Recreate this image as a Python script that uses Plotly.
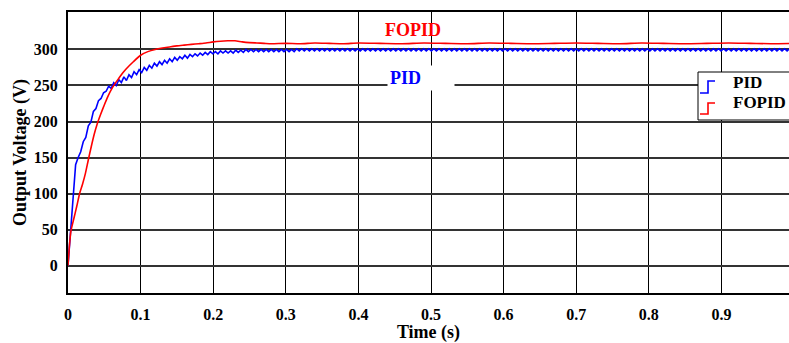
import plotly.graph_objects as go

# ---- data ----
DT = 0.0035  # PID sample spacing (s)
PID_V = [
    0, 45, 95, 140, 150, 158, 172, 178, 194, 199, 214, 218, 229, 232, 240, 242, 249, 246, 254, 250,
    258, 254, 262, 257, 265, 261, 269, 265, 272, 268, 275, 271, 278, 274, 281, 277, 283, 279, 285, 281,
    287, 283, 289, 285, 290, 287, 292, 288, 293, 290, 294, 291, 295, 292, 296, 293, 297, 294, 297, 294,
    298, 295, 298, 295, 298, 295, 299, 296, 299, 296,
    300, 297, 300, 297, 300, 297, 300, 297, 300, 297, 300, 297, 300, 297, 300, 297, 300, 297, 300, 297,
    301, 298, 301, 298, 301, 298, 301, 298, 301, 298, 301, 298, 301, 298, 301, 298, 301, 298, 301, 298,
    301, 298, 301, 298, 301, 298, 301, 298, 301, 298, 301, 298, 301, 298, 301, 298, 301, 298, 301, 298,
    301, 298, 301, 298, 301, 298, 301, 298, 301, 298, 301, 298, 301, 298, 301, 298, 301, 298, 301, 298,
    301, 298, 301, 298, 301, 298, 301, 298, 301, 298, 301, 298, 301, 298, 301, 298, 301, 298, 301, 298,
    301, 298, 301, 298, 301, 298, 301, 298, 301, 298, 301, 298, 301, 298, 301, 298, 301, 298, 301, 298,
    301, 298, 301, 298, 301, 298, 301, 298, 301, 298, 301, 298, 301, 298, 301, 298, 301, 298, 301, 298,
    301, 298, 301, 298, 301, 298, 301, 298, 301, 298, 301, 298, 301, 298, 301, 298, 301, 298, 301, 298,
    301, 298, 301, 298, 301, 298, 301, 298, 301, 298, 301, 298, 301, 298, 301, 298, 301, 298, 301, 298,
    301, 298, 301, 298, 301, 298, 301, 298, 301, 298, 301, 298, 301, 298, 301, 298, 301, 298, 301, 298,
    301, 298, 301, 298, 301, 298, 301, 298, 301, 298, 301, 298, 301, 298, 301,
]
PID_T = [i * DT for i in range(len(PID_V))]

FOPID_T = [0, 0.002, 0.004, 0.008, 0.012, 0.016, 0.02, 0.024, 0.028, 0.032,
           0.036, 0.04, 0.045, 0.05, 0.055, 0.06, 0.065, 0.07, 0.075, 0.08,
           0.09, 0.1, 0.11, 0.12, 0.13, 0.14, 0.15, 0.16, 0.17, 0.18,
           0.19, 0.2, 0.21, 0.22, 0.23, 0.24, 0.25, 0.26, 0.27, 0.28,
           0.3, 0.32, 0.34, 0.36, 0.38, 0.4,
           0.43, 0.46, 0.49, 0.52, 0.55, 0.58, 0.61, 0.64, 0.67, 0.7,
           0.73, 0.76, 0.79, 0.82, 0.85, 0.88, 0.91, 0.94, 0.97, 1.0]
FOPID_V = [0, 28, 48, 65, 82, 100, 113, 128, 147, 165,
           182, 196, 210, 223, 235, 245, 253, 260, 267, 273,
           283, 292, 297, 300, 302, 303.5, 305, 306, 307, 308,
           309, 310.5, 311.5, 312, 312, 310.5, 309.5, 309, 308.5, 308,
           308.5, 308, 309, 308.5, 308, 309,
           308.5, 308, 309, 308.5, 308, 309, 308.5, 308, 308.5, 309,
           308.5, 308, 309, 308.5, 308, 308.5, 309, 308.5, 308, 308.5]

X_TICKS = [0, 0.1, 0.2, 0.3, 0.4, 0.5, 0.6, 0.7, 0.8, 0.9]
X_LABELS = ["0", "0.1", "0.2", "0.3", "0.4", "0.5", "0.6", "0.7", "0.8", "0.9"]
Y_TICKS = [0, 50, 100, 150, 200, 250, 300]

FONT = "Liberation Serif"
BLUE = "#0000ff"
RED = "#ff0000"

W, H = 789, 343
L, R, T, B = 68, 0, 12, 50
pw, ph = W - L - R, H - T - B


def px(x):
    return (x - L) / pw


def py(y):
    return (H - B - y) / ph


fig = go.Figure()
fig.add_trace(go.Scatter(x=PID_T, y=PID_V, mode="lines", name="PID",
                         line=dict(color=BLUE, width=1.6), showlegend=False))
fig.add_trace(go.Scatter(x=FOPID_T, y=FOPID_V, mode="lines", name="FOPID",
                         line=dict(color=RED, width=1.6, shape="spline", smoothing=0.6),
                         showlegend=False))

# custom legend (box open to the right edge + step-shaped icons)
LEG_L, LEG_T, LEG_B, LEG_R = 698, 72, 120, 800
shapes = [
    dict(type="rect", xref="paper", yref="paper", x0=px(LEG_L), x1=px(LEG_R), y0=py(LEG_B), y1=py(LEG_T),
         line=dict(width=0), fillcolor="white", layer="above"),
    dict(type="line", xref="paper", yref="paper", x0=px(LEG_L), x1=px(LEG_R), y0=py(LEG_T), y1=py(LEG_T),
         line=dict(color="black", width=1), layer="above"),
    dict(type="line", xref="paper", yref="paper", x0=px(LEG_L), x1=px(LEG_R), y0=py(LEG_B), y1=py(LEG_B),
         line=dict(color="black", width=1), layer="above"),
    dict(type="line", xref="paper", yref="paper", x0=px(LEG_L), x1=px(LEG_L), y0=py(LEG_B), y1=py(LEG_T),
         line=dict(color="black", width=1), layer="above"),
    dict(type="path", xref="paper", yref="paper",
         path=f"M {px(700)} {py(93)} L {px(708)} {py(93)} L {px(708)} {py(81)} L {px(715)} {py(81)}",
         line=dict(color=BLUE, width=1.6), layer="above"),
    dict(type="path", xref="paper", yref="paper",
         path=f"M {px(700)} {py(114)} L {px(708)} {py(114)} L {px(708)} {py(103)} L {px(715)} {py(103)}",
         line=dict(color=RED, width=1.6), layer="above"),
]

annotations = [
    dict(xref="paper", yref="paper", x=px(731), y=py(82), xanchor="left", yanchor="middle",
         text="PID", showarrow=False, font=dict(family=FONT, size=17, color="black", weight="bold")),
    dict(xref="paper", yref="paper", x=px(731), y=py(103), xanchor="left", yanchor="middle",
         text="FOPID", showarrow=False, font=dict(family=FONT, size=17, color="black", weight="bold")),
    dict(xref="x", yref="y", x=0.475, y=327, text="FOPID", showarrow=False,
         font=dict(family=FONT, size=18, color=RED, weight="bold")),
    dict(xref="x", yref="y", x=(387 - L) / 726.0, y=261, xanchor="left", yanchor="middle",
         text="PID", showarrow=False, bgcolor="white", width=62, align="left", borderpad=2,
         font=dict(family=FONT, size=18, color=BLUE, weight="bold")),
]

fig.update_layout(
    width=W, height=H,
    margin=dict(l=L, r=R, t=T, b=B, autoexpand=False),
    paper_bgcolor="white", plot_bgcolor="white",
    shapes=shapes, annotations=annotations,
    font=dict(family=FONT, color="black"),
)

fig.update_xaxes(
    range=[0, pw / 726.0], tickvals=X_TICKS, ticktext=X_LABELS, automargin=False,
    showgrid=True, gridcolor="black", gridwidth=1.3,
    zeroline=False, showline=True, linecolor="black", linewidth=2, mirror=True,
    ticks="", ticklabelstandoff=6,
    tickfont=dict(family=FONT, size=16, color="black", weight="bold"),
    title=dict(text="Time (s)", standoff=4,
               font=dict(family=FONT, size=18, color="black", weight="bold")),
)
fig.update_yaxes(
    range=[-38, 352], tickvals=Y_TICKS, automargin=False,
    showgrid=True, gridcolor="#333333", gridwidth=2,
    zeroline=False, showline=True, linecolor="black", linewidth=2,
    ticks="", ticklabelstandoff=5,
    tickfont=dict(family=FONT, size=16, color="black", weight="bold"),
    title=dict(text="Output Voltage (V)", standoff=2,
               font=dict(family=FONT, size=18, color="black", weight="bold")),
)

fig.write_html("out.html", config={"displayModeBar": False},
               post_script="document.body.style.margin='0';document.body.style.overflow='hidden';")
